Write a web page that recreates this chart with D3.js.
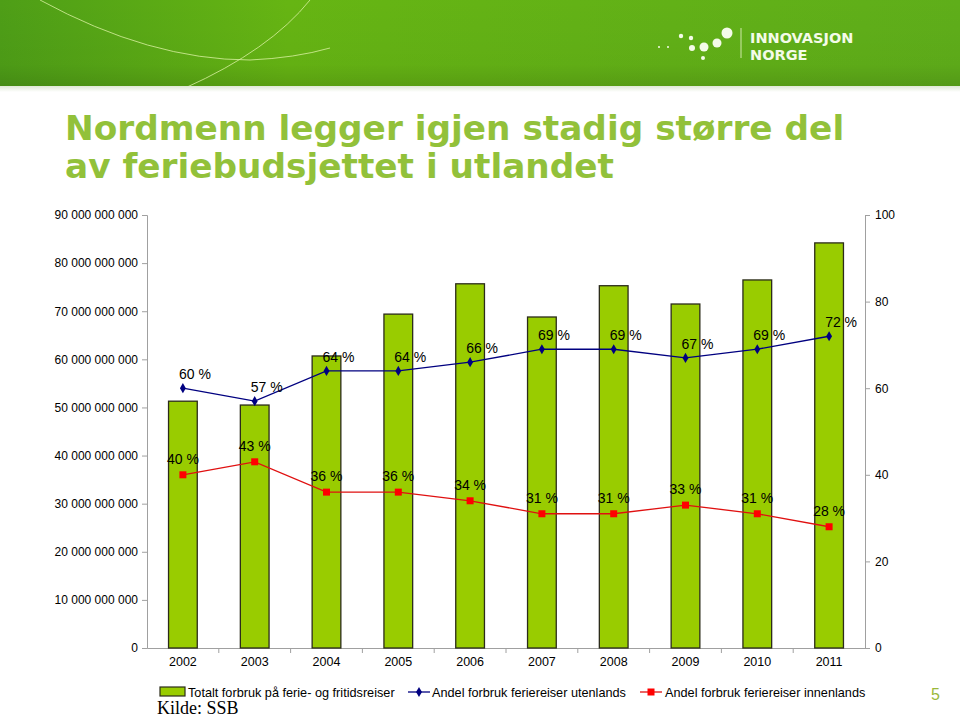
<!DOCTYPE html>
<html>
<head>
<meta charset="utf-8">
<title>Nordmenn legger igjen stadig større del av feriebudsjettet i utlandet</title>
<script src="https://d3js.org/d3.v7.min.js"></script>
<style>
  body { margin: 0; background: #fff; }
  text { font-family: Arial, "Liberation Sans", sans-serif; }
</style>
</head>
<body>
<div id="chart"></div>
<script>
// data
var years = ["2002", "2003", "2004", "2005", "2006", "2007", "2008", "2009", "2010", "2011"];
var totalSpend = [51.3e9, 50.5e9, 60.7e9, 69.4e9, 75.7e9, 68.8e9, 75.3e9, 71.5e9, 76.5e9, 84.2e9];
var abroadShare = [60, 57, 64, 64, 66, 69, 69, 67, 69, 72];
var domesticShare = [40, 43, 36, 36, 34, 31, 31, 33, 31, 28];
var leftTicks = [0, 10e9, 20e9, 30e9, 40e9, 50e9, 60e9, 70e9, 80e9, 90e9];
var rightTicks = [0, 20, 40, 60, 80, 100];

var W = 960, H = 717;
var margin = {top: 215, right: 95, bottom: 69, left: 147};
var width = W - margin.left - margin.right,
    height = H - margin.top - margin.bottom;

var svg = d3.select("#chart").append("svg")
    .attr("width", W)
    .attr("height", H);

// header band
var defs = svg.append("defs");
var grad = defs.append("linearGradient").attr("id", "band")
    .attr("x1", 0).attr("x2", 1).attr("y1", 0).attr("y2", 0);
grad.append("stop").attr("offset", "0%").attr("stop-color", "#4e9e17");
grad.append("stop").attr("offset", "30%").attr("stop-color", "#66b513");
grad.append("stop").attr("offset", "100%").attr("stop-color", "#5fae1a");
var shade = defs.append("linearGradient").attr("id", "shade")
    .attr("x1", 0).attr("x2", 0).attr("y1", 0).attr("y2", 1);
shade.append("stop").attr("offset", "0%").attr("stop-color", "#000").attr("stop-opacity", 0);
shade.append("stop").attr("offset", "75%").attr("stop-color", "#000").attr("stop-opacity", 0.03);
shade.append("stop").attr("offset", "100%").attr("stop-color", "#000").attr("stop-opacity", 0.12);

svg.append("rect").attr("width", W).attr("height", 86).attr("fill", "url(#band)");
svg.append("rect").attr("width", W).attr("height", 86).attr("fill", "url(#shade)");
svg.append("path")
    .attr("d", "M40,0 Q150,60 250,60 Q295,58 330,48")
    .attr("fill", "none").attr("stroke", "#d8f0a0").attr("stroke-width", 1).attr("opacity", 0.8);
svg.append("path")
    .attr("d", "M310,0 Q270,50 185,88")
    .attr("fill", "none").attr("stroke", "#d8f0a0").attr("stroke-width", 1).attr("opacity", 0.8);
var fade = defs.append("linearGradient").attr("id", "fade")
    .attr("x1", 0).attr("x2", 0).attr("y1", 0).attr("y2", 1);
fade.append("stop").attr("offset", "0%").attr("stop-color", "#dfe8d5");
fade.append("stop").attr("offset", "100%").attr("stop-color", "#fff");
svg.append("rect").attr("y", 86).attr("width", W).attr("height", 6).attr("fill", "url(#fade)");

// logo
var logo = svg.append("g").attr("fill", "#f4fbe8");
[[659, 47, 1], [668, 47, 1], [681, 36, 2.2], [691, 38, 2.2], [692, 48, 3], [704, 47, 4.5], [717, 43, 4.5], [727, 33, 5.5], [703, 58, 2]].forEach(function(d) {
  logo.append("circle").attr("cx", d[0]).attr("cy", d[1]).attr("r", d[2]);
});
svg.append("line").attr("x1", 741).attr("x2", 741).attr("y1", 28).attr("y2", 58)
    .attr("stroke", "#cfe8a8").attr("stroke-width", 1);
svg.append("text").attr("x", 750).attr("y", 43).text("INNOVASJON")
    .attr("fill", "#f4fbe8").style("font-family", "Verdana, 'DejaVu Sans', sans-serif")
    .style("font-weight", "bold").style("font-size", "14.5px");
svg.append("text").attr("x", 750).attr("y", 60).text("NORGE")
    .attr("fill", "#f4fbe8").style("font-family", "Verdana, 'DejaVu Sans', sans-serif")
    .style("font-weight", "bold").style("font-size", "14.5px");

// title
var title = svg.append("text")
    .attr("fill", "#92c13a")
    .style("font-family", "Verdana, 'DejaVu Sans', sans-serif")
    .style("font-weight", "bold")
    .style("font-size", "34.3px");
title.append("tspan").attr("x", 65).attr("y", 140).text("Nordmenn legger igjen stadig større del");
title.append("tspan").attr("x", 65).attr("y", 178).text("av feriebudsjettet i utlandet");

var g = svg.append("g")
    .attr("transform", "translate(" + margin.left + "," + margin.top + ")");

var x = d3.scaleBand().domain(years).range([0, width]).paddingInner(0.6).paddingOuter(0.3);
var xPoint = function(d) { return x(d) + x.bandwidth() / 2; };
var yLeft = d3.scaleLinear().domain([0, 90e9]).range([height, 0]);
var yRight = d3.scaleLinear().domain([0, 100]).range([height, 0]);

var fmtBig = function(d) { return d3.format(",")(d).replace(/,/g, " "); };

// left axis
var axL = g.append("g")
    .call(d3.axisLeft(yLeft).tickValues(leftTicks).tickFormat(fmtBig).tickSize(5).tickPadding(4));
// right axis
var axR = g.append("g")
    .attr("transform", "translate(" + width + ",0)")
    .call(d3.axisRight(yRight).tickValues(rightTicks).tickSize(5).tickPadding(5));
// bottom axis
var axB = g.append("g")
    .attr("transform", "translate(0," + height + ")")
    .call(d3.axisBottom(x).tickSize(0).tickPadding(9));
// category separator ticks
axB.selectAll(".sep").data(years.slice(1)).enter().append("line")
    .attr("class", "sep")
    .attr("x1", function(d) { return x(d) - x.step() * x.paddingInner() / 2; })
    .attr("x2", function(d) { return x(d) - x.step() * x.paddingInner() / 2; })
    .attr("y1", 0).attr("y2", 5);

[axL, axR, axB].forEach(function(a) {
  a.selectAll("path.domain, line").attr("stroke", "#a0a0a0");
  a.selectAll("text").attr("fill", "#000").style("font-size", "12px")
    .style("font-family", "Arial, 'Liberation Sans', sans-serif");
});
axB.selectAll("text").style("font-size", "12.5px");

// bars
g.selectAll(".bar").data(years).enter().append("rect")
    .attr("class", "bar")
    .attr("x", function(d) { return x(d); })
    .attr("width", x.bandwidth())
    .attr("y", function(d, i) { return yLeft(totalSpend[i]); })
    .attr("height", function(d, i) { return height - yLeft(totalSpend[i]); })
    .attr("fill", "#99cc00")
    .attr("stroke", "#2b2b1a")
    .attr("stroke-width", 1.3);

var line = d3.line()
    .x(function(d, i) { return xPoint(years[i]); })
    .y(function(d) { return yRight(d); });

// abroad share
g.append("path").datum(abroadShare)
    .attr("d", line).attr("fill", "none").attr("stroke", "#000080").attr("stroke-width", 1.3);
g.selectAll(".dia").data(abroadShare).enter().append("path")
    .attr("class", "dia")
    .attr("d", d3.symbol().type(d3.symbolDiamond).size(30))
    .attr("transform", function(d, i) { return "translate(" + xPoint(years[i]) + "," + yRight(d) + ")"; })
    .attr("fill", "#000080");

// domestic share
g.append("path").datum(domesticShare)
    .attr("d", line).attr("fill", "none").attr("stroke", "#e01010").attr("stroke-width", 1.3);
g.selectAll(".sq").data(domesticShare).enter().append("rect")
    .attr("class", "sq")
    .attr("x", function(d, i) { return xPoint(years[i]) - 3.5; })
    .attr("y", function(d) { return yRight(d) - 3.5; })
    .attr("width", 7).attr("height", 7)
    .attr("fill", "#ff0000");

// value labels
g.selectAll(".lblA").data(abroadShare).enter().append("text")
    .attr("class", "lblA")
    .attr("x", function(d, i) { return xPoint(years[i]) + 12; })
    .attr("y", function(d) { return yRight(d) - 9; })
    .attr("text-anchor", "middle")
    .style("font-size", "14px")
    .text(function(d) { return d + " %"; });
g.selectAll(".lblD").data(domesticShare).enter().append("text")
    .attr("class", "lblD")
    .attr("x", function(d, i) { return xPoint(years[i]); })
    .attr("y", function(d) { return yRight(d) - 11; })
    .attr("text-anchor", "middle")
    .style("font-size", "14px")
    .text(function(d) { return d + " %"; });

// legend
var leg = svg.append("g").attr("transform", "translate(160,692)");
leg.append("rect").attr("x", 0).attr("y", -5).attr("width", 25).attr("height", 9)
    .attr("fill", "#99cc00").attr("stroke", "#2b2b1a").attr("stroke-width", 1.2);
leg.append("text").attr("x", 28).attr("y", 5).style("font-size", "12.7px")
    .text("Totalt forbruk på ferie- og fritidsreiser");
leg.append("line").attr("x1", 248).attr("x2", 270).attr("y1", 0).attr("y2", 0)
    .attr("stroke", "#000080").attr("stroke-width", 1.3);
leg.append("path").attr("d", d3.symbol().type(d3.symbolDiamond).size(30))
    .attr("transform", "translate(259,0)").attr("fill", "#000080");
leg.append("text").attr("x", 272).attr("y", 5).style("font-size", "12.7px")
    .text("Andel forbruk feriereiser utenlands");
leg.append("line").attr("x1", 480).attr("x2", 502).attr("y1", 0).attr("y2", 0)
    .attr("stroke", "#e01010").attr("stroke-width", 1.3);
leg.append("rect").attr("x", 487.5).attr("y", -3.5).attr("width", 7).attr("height", 7)
    .attr("fill", "#ff0000");
leg.append("text").attr("x", 505).attr("y", 5).style("font-size", "12.7px")
    .text("Andel forbruk feriereiser innenlands");

svg.append("text").attr("x", 157).attr("y", 714)
    .style("font-family", "'Liberation Serif', 'Times New Roman', serif")
    .style("font-size", "18px")
    .text("Kilde: SSB");

svg.append("text").attr("x", 931).attr("y", 700)
    .attr("fill", "#9ab83a")
    .style("font-size", "16px")
    .text("5");
</script>
</body>
</html>
